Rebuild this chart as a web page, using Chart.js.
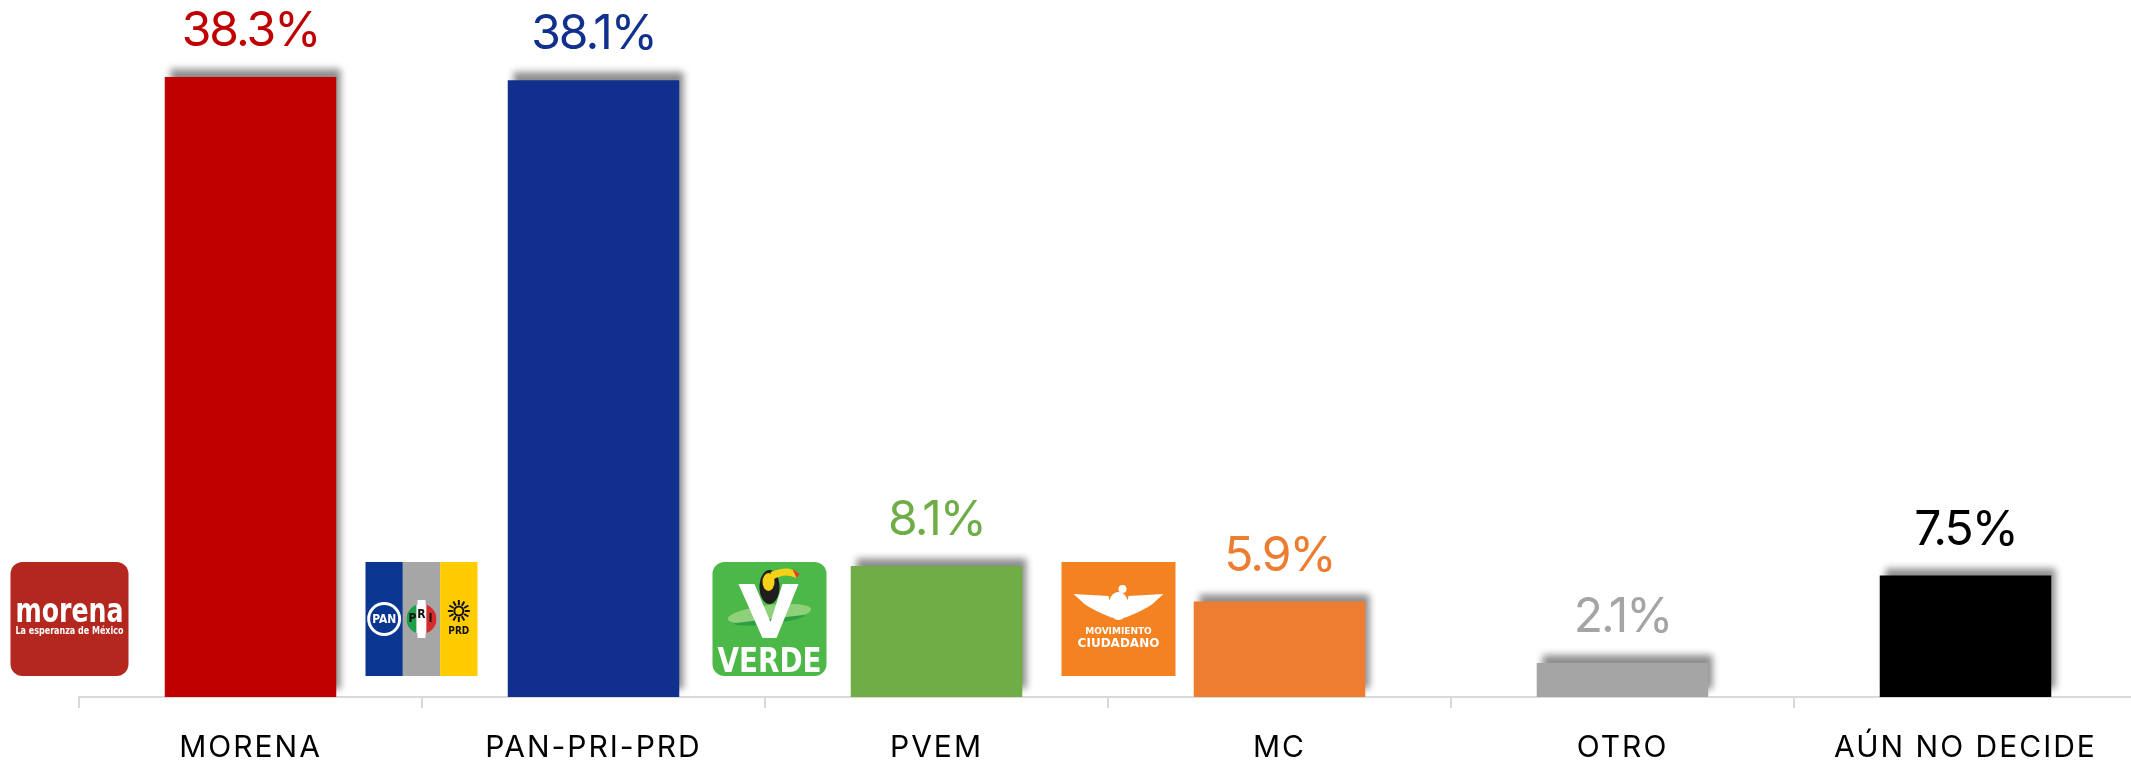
<!DOCTYPE html>
<html>
<head>
<meta charset="utf-8">
<script src="https://cdn.jsdelivr.net/npm/chart.js@4.4.1/dist/chart.umd.min.js"></script>
<style>
  html, body { margin: 0; padding: 0; background: #fff; overflow: hidden; }
  #wrap { width: 2131px; height: 768px; overflow: hidden; }
</style>
</head>
<body>
<div id="wrap"><canvas id="myChart" width="2137" height="768"></canvas></div>
<script>
const categories = ['MORENA', 'PAN-PRI-PRD', 'PVEM', 'MC', 'OTRO', 'AÚN NO DECIDE'];
const values = [38.3, 38.1, 8.1, 5.9, 2.1, 7.5];
const barColors = ['#C00000', '#112F8C', '#70AD47', '#ED7D31', '#A5A5A5', '#000000'];
const logos = ['morena', 'panpriprd', 'verde', 'mc', null, null];

const FONT = 'Inter, "Noto Sans", sans-serif';

// little drawings of the party logos, left of each bar
function drawMorena(ctx, x, y, w, h) {
    ctx.fillStyle = '#B3271F';
    ctx.beginPath();
    ctx.roundRect(x, y, w, h, 12);
    ctx.fill();
    ctx.fillStyle = '#fff';
    ctx.textAlign = 'center';
    ctx.textBaseline = 'alphabetic';
    ctx.font = 'bold 33px "DejaVu Sans Condensed", "DejaVu Sans", sans-serif';
    ctx.fillText('morena', x + w / 2, y + 60, w - 10);
    ctx.font = 'bold 10px "DejaVu Sans Condensed", "DejaVu Sans", sans-serif';
    ctx.fillText('La esperanza de México', x + w / 2, y + 72, w - 10);
}

function drawPanPriPrd(ctx, x, y, w, h) {
    const sw = w / 3;
    ctx.fillStyle = '#0A3590';
    ctx.fillRect(x, y, sw, h);
    ctx.fillStyle = '#A6A6A6';
    ctx.fillRect(x + sw, y, sw, h);
    ctx.fillStyle = '#FFCC00';
    ctx.fillRect(x + 2 * sw, y, w - 2 * sw, h);
    const cy = y + h / 2;
    // PAN
    let cx = x + sw / 2;
    ctx.fillStyle = '#fff';
    ctx.beginPath(); ctx.arc(cx, cy, 17, 0, Math.PI * 2); ctx.fill();
    ctx.fillStyle = '#0A3590';
    ctx.beginPath(); ctx.arc(cx, cy, 14, 0, Math.PI * 2); ctx.fill();
    ctx.fillStyle = '#fff';
    ctx.font = 'bold 12px "DejaVu Sans Condensed", sans-serif';
    ctx.textAlign = 'center';
    ctx.textBaseline = 'middle';
    ctx.fillText('PAN', cx, cy + 1, 24);
    // PRI
    cx = x + sw * 1.5;
    ctx.save();
    ctx.beginPath(); ctx.arc(cx, cy, 15, 0, Math.PI * 2); ctx.clip();
    ctx.fillStyle = '#1E9E4A'; ctx.fillRect(cx - 15, cy - 15, 10, 30);
    ctx.fillStyle = '#fff'; ctx.fillRect(cx - 5, cy - 15, 10, 30);
    ctx.fillStyle = '#D72A2A'; ctx.fillRect(cx + 5, cy - 15, 10, 30);
    ctx.restore();
    ctx.fillStyle = '#fff';
    ctx.fillRect(cx - 4, cy - 19, 8, 38);
    ctx.fillStyle = '#111';
    ctx.font = 'bold 12px "DejaVu Sans Condensed", sans-serif';
    ctx.fillText('P', cx - 9, cy);
    ctx.fillText('R', cx, cy - 4);
    ctx.fillText('I', cx + 9, cy);
    // PRD
    cx = x + sw * 2.5;
    const sy = cy - 8;
    ctx.strokeStyle = '#111';
    ctx.lineWidth = 2;
    for (let k = 0; k < 12; k++) {
        const a = k * Math.PI / 6;
        ctx.beginPath();
        ctx.moveTo(cx + Math.cos(a) * 6, sy + Math.sin(a) * 6);
        ctx.lineTo(cx + Math.cos(a) * 11, sy + Math.sin(a) * 11);
        ctx.stroke();
    }
    ctx.beginPath(); ctx.arc(cx, sy, 4.5, 0, Math.PI * 2); ctx.stroke();
    ctx.fillStyle = '#111';
    ctx.font = 'bold 10px "DejaVu Sans Condensed", sans-serif';
    ctx.fillText('PRD', cx, cy + 12, 24);
}

function drawVerde(ctx, x, y, w, h) {
    ctx.fillStyle = '#4CB848';
    ctx.beginPath();
    ctx.roundRect(x, y, w, h, 12);
    ctx.fill();
    // swoosh
    ctx.fillStyle = '#8FD07A';
    ctx.beginPath();
    ctx.ellipse(x + 57, y + 52, 42, 9, -0.12, 0, Math.PI * 2);
    ctx.fill();
    ctx.fillStyle = '#2E9E45';
    ctx.beginPath();
    ctx.ellipse(x + 57, y + 57, 36, 5, -0.12, 0, Math.PI);
    ctx.fill();
    // toucan
    ctx.fillStyle = '#1E1E1E';
    ctx.beginPath();
    ctx.ellipse(x + 57, y + 25, 10, 17, 0, 0, Math.PI * 2);
    ctx.fill();
    ctx.fillStyle = '#F7D117';
    ctx.beginPath();
    ctx.ellipse(x + 56, y + 20, 6, 9, 0, 0, Math.PI * 2);
    ctx.fill();
    ctx.beginPath();
    ctx.moveTo(x + 58, y + 10);
    ctx.quadraticCurveTo(x + 78, y + 2, x + 86, y + 12);
    ctx.lineTo(x + 84, y + 16);
    ctx.quadraticCurveTo(x + 72, y + 10, x + 60, y + 18);
    ctx.closePath();
    ctx.fill();
    ctx.fillStyle = '#E23B2E';
    ctx.beginPath();
    ctx.moveTo(x + 80, y + 7); ctx.lineTo(x + 87, y + 12); ctx.lineTo(x + 84, y + 16); ctx.closePath();
    ctx.fill();
    // big V
    ctx.fillStyle = '#fff';
    ctx.beginPath();
    ctx.moveTo(x + 26, y + 22);
    ctx.lineTo(x + 42, y + 22);
    ctx.lineTo(x + 58, y + 60);
    ctx.lineTo(x + 70, y + 22);
    ctx.lineTo(x + 86, y + 22);
    ctx.lineTo(x + 64, y + 76);
    ctx.lineTo(x + 50, y + 76);
    ctx.closePath();
    ctx.fill();
    ctx.font = 'bold 34px "DejaVu Sans Condensed", sans-serif';
    ctx.textAlign = 'center';
    ctx.textBaseline = 'alphabetic';
    ctx.fillText('VERDE', x + w / 2, y + 110, w - 10);
}

function drawMC(ctx, x, y, w, h) {
    ctx.fillStyle = '#F58220';
    ctx.fillRect(x, y, w, h);
    ctx.fillStyle = '#fff';
    const cx = x + w / 2, top = y + 30;
    // wings
    ctx.beginPath();
    ctx.moveTo(cx - 45, top + 2);
    ctx.lineTo(cx - 10, top + 4);
    ctx.lineTo(cx - 6, top + 26);
    ctx.quadraticCurveTo(cx - 26, top + 18, cx - 34, top + 12);
    ctx.closePath();
    ctx.fill();
    ctx.beginPath();
    ctx.moveTo(cx + 45, top + 2);
    ctx.lineTo(cx + 10, top + 4);
    ctx.lineTo(cx + 6, top + 26);
    ctx.quadraticCurveTo(cx + 26, top + 18, cx + 34, top + 12);
    ctx.closePath();
    ctx.fill();
    // body
    ctx.beginPath();
    ctx.ellipse(cx, top + 14, 10, 14, 0, 0, Math.PI * 2);
    ctx.fill();
    ctx.beginPath();
    ctx.arc(cx + 4, top - 3, 4, 0, Math.PI * 2);
    ctx.fill();
    ctx.textAlign = 'center';
    ctx.textBaseline = 'alphabetic';
    ctx.font = 'bold 9px "DejaVu Sans", sans-serif';
    ctx.fillText('MOVIMIENTO', cx, y + 72, 74);
    ctx.font = 'bold 12px "DejaVu Sans", sans-serif';
    ctx.fillText('CIUDADANO', cx, y + 85, 82);
}

const logoPainters = { morena: drawMorena, panpriprd: drawPanPriPrd, verde: drawVerde, mc: drawMC };
// left edge relative to the category centre, and width
const logoBoxes = {
    morena: { dx: -240, w: 118 },
    panpriprd: { dx: -228, w: 112 },
    verde: { dx: -224, w: 114 },
    mc: { dx: -218, w: 114 }
};

const barShadow = {
    id: 'barShadow',
    beforeDatasetsDraw(chart) {
        const ctx = chart.ctx;
        ctx.save();
        ctx.shadowColor = 'rgba(0, 0, 0, 0.45)';
        ctx.shadowBlur = 7;
        ctx.shadowOffsetX = 5;
        ctx.shadowOffsetY = -8;
    },
    afterDatasetsDraw(chart) {
        chart.ctx.restore();
    }
};

const tickSpacing = {
    id: 'tickSpacing',
    beforeDraw(chart) { chart.ctx.letterSpacing = '2px'; },
    afterDraw(chart) { chart.ctx.letterSpacing = '0px'; }
};

const extras = {
    id: 'extras',
    afterDraw(chart) {
        const ctx = chart.ctx;
        const xs = chart.scales.x;
        const meta = chart.getDatasetMeta(0);
        const bottom = chart.chartArea.bottom;
        ctx.save();
        // value labels
        ctx.letterSpacing = '-2px';
        ctx.font = '400 48px ' + FONT;
        ctx.textAlign = 'center';
        ctx.textBaseline = 'alphabetic';
        meta.data.forEach((bar, i) => {
            ctx.fillStyle = barColors[i];
            ctx.fillText(values[i].toFixed(1) + '%', bar.x, bar.y - 31);
        });
        ctx.letterSpacing = '0px';
        // logos
        logos.forEach((name, i) => {
            if (!name) return;
            const box = logoBoxes[name];
            const x = xs.getPixelForValue(i) + box.dx;
            ctx.save();
            logoPainters[name](ctx, x, bottom - 135, box.w, 114);
            ctx.restore();
        });
        ctx.restore();
    }
};

let ctx = document.getElementById('myChart').getContext('2d');
let myChart = new Chart(ctx, {
    type: 'bar',
    data: {
        labels: categories,
        datasets: [{
            data: values,
            backgroundColor: barColors,
            borderWidth: 0,
            barPercentage: 1,
            categoryPercentage: 0.5
        }]
    },
    options: {
        responsive: false,
        animation: false,
        layout: { padding: { left: 79, right: 0, top: 1, bottom: 0 } },
        plugins: {
            legend: { display: false },
            tooltip: { enabled: false }
        },
        scales: {
            y: {
                display: false,
                min: 0,
                max: 43
            },
            x: {
                afterFit(scale) { scale.height = 71; },
                grid: {
                    drawOnChartArea: false,
                    drawTicks: true,
                    tickLength: 11,
                    color: '#D9D9D9',
                    lineWidth: 2
                },
                border: { color: '#D9D9D9', width: 2 },
                ticks: {
                    color: '#000',
                    font: { family: FONT, size: 30, weight: '400' },
                    padding: 22,
                    maxRotation: 0,
                    autoSkip: false
                }
            }
        }
    },
    plugins: [tickSpacing, barShadow, extras]
});
</script>
</body>
</html>
